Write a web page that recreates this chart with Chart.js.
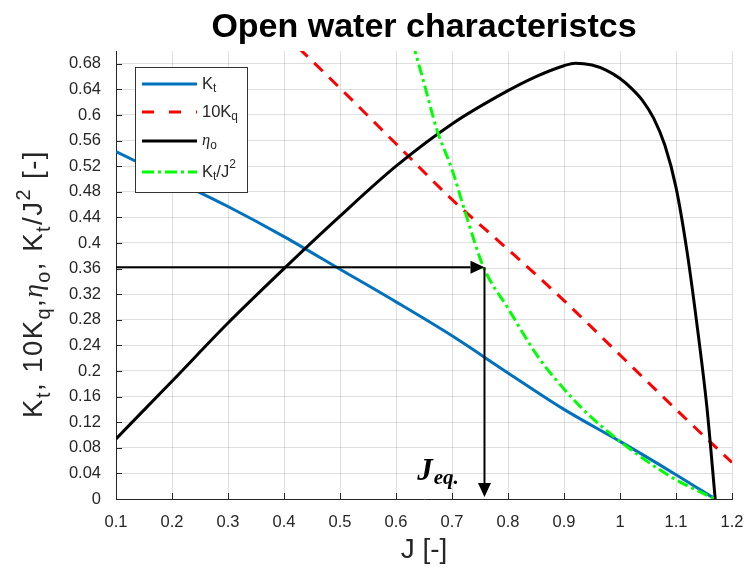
<!DOCTYPE html>
<html lang="en">
<head>
<meta charset="UTF-8">
<title>Open water characteristcs</title>
<script src="https://cdn.jsdelivr.net/npm/chart.js@4.4.0/dist/chart.umd.min.js"></script>
<style>
    body, html { margin: 0; padding: 0; background: #fff; }
    #wrap { width: 744px; height: 569px; }
</style>
</head>
<body>
<div id="wrap"><canvas id="owc" width="744" height="569"></canvas></div>
<script>
// values
const jKt  = [0.1, 0.2, 0.3, 0.4, 0.5, 0.6, 0.7, 0.8, 0.9, 1.0, 1.1, 1.17];
const kt   = [0.543, 0.50, 0.457, 0.41, 0.359, 0.308, 0.255, 0.197, 0.14, 0.09, 0.038, 0.0];

const jKq  = [0.4, 0.5, 0.6, 0.7, 0.8, 0.9, 1.0, 1.1, 1.2];
const kq10 = [0.727, 0.642, 0.555, 0.468, 0.39, 0.31, 0.225, 0.14, 0.057];

const jEta = [0.1, 0.2, 0.3, 0.4, 0.5, 0.6, 0.7, 0.8, 0.85, 0.9, 0.92, 0.95, 0.975, 1.0, 1.02, 1.04, 1.06, 1.08, 1.1, 1.12, 1.14, 1.155, 1.17];
const eta  = [0.094, 0.184, 0.275, 0.36, 0.442, 0.52, 0.586, 0.638, 0.66, 0.677, 0.681, 0.678, 0.670, 0.657, 0.642, 0.623, 0.595, 0.553, 0.487, 0.385, 0.255, 0.145, 0.0];

const jGr  = [0.62, 0.634, 0.65, 0.673, 0.7, 0.724, 0.756, 0.8, 0.857, 0.9, 0.941, 1.0, 1.05, 1.1, 1.17];
const ktJ2 = [0.745, 0.70, 0.65, 0.577, 0.515, 0.447, 0.363, 0.298, 0.218, 0.172, 0.134, 0.09, 0.058, 0.03, 0.0];

const yTickVals = [0, 0.04, 0.08, 0.12, 0.16, 0.2, 0.24, 0.28, 0.32, 0.36, 0.4, 0.44, 0.48, 0.52, 0.56, 0.6, 0.64, 0.68];

// J_eq construction
const eqK = 0.362;
const eqJ = 0.758;
const eqLabelAt = [0.638, 0.03];

const legendItems = [
    { color: '#0072BD', dash: [],            segs: [['K', 'n'], ['t', 'sub']] },
    { color: '#FF0000', dash: [12, 15],      segs: [['10K', 'n'], ['q', 'sub']] },
    { color: '#000000', dash: [],            segs: [['\u03B7', 'it'], ['o', 'sub']] },
    { color: '#00FF00', dash: [12, 4, 3, 4], segs: [['K', 'n'], ['t', 'sub'], ['/J', 'n'], ['2', 'sup']] }
];
const yTitle = [['K', 'n'], ['t', 'sub'], [', 10K', 'n'], ['q', 'sub'], [',', 'n'], ['\u03B7', 'it'], ['o', 'sub'],
                [', K', 'n'], ['t', 'sub'], ['/J', 'n'], ['2', 'sup'], [' [-]', 'n']];

const SANS = '"Liberation Sans", Arial, sans-serif';
const INK = '#262626';

function toXY(xs, ys) {
    return xs.map((x, i) => ({ x: x, y: ys[i] }));
}

// draws text made of normal / subscript / superscript pieces, returns width
function richText(ctx, segs, x, y, size, measureOnly) {
    let cx = x;
    segs.forEach(([t, kind]) => {
        let fs = size, dy = 0, font;
        if (kind === 'sub') { fs = size * 0.72; dy = size * 0.28; }
        if (kind === 'sup') { fs = size * 0.72; dy = -size * 0.42; }
        font = fs + 'px ' + SANS;
        if (kind === 'it') font = 'italic ' + size + 'px "Liberation Serif", serif';
        ctx.font = font;
        if (!measureOnly) ctx.fillText(t, cx, y + dy);
        cx += ctx.measureText(t).width;
    });
    return cx - x;
}

function arrow(ctx, x1, y1, x2, y2) {
    const ang = Math.atan2(y2 - y1, x2 - x1);
    const L = 14, W = 6.5;
    ctx.beginPath();
    ctx.moveTo(x1, y1);
    ctx.lineTo(x2 - L * Math.cos(ang), y2 - L * Math.sin(ang));
    ctx.stroke();
    ctx.beginPath();
    ctx.moveTo(x2, y2);
    ctx.lineTo(x2 - L * Math.cos(ang) - W * Math.sin(ang), y2 - L * Math.sin(ang) + W * Math.cos(ang));
    ctx.lineTo(x2 - L * Math.cos(ang) + W * Math.sin(ang), y2 - L * Math.sin(ang) - W * Math.cos(ang));
    ctx.closePath();
    ctx.fill();
}

const decor = {
    id: 'decor',
    beforeDraw(chart) {
        const ctx = chart.ctx;
        ctx.save();
        ctx.fillStyle = '#fff';
        ctx.fillRect(0, 0, chart.width, chart.height);
        ctx.restore();
    },
    afterDraw(chart) {
        const ctx = chart.ctx;
        const xs = chart.scales.x, ys = chart.scales.y;
        const a = chart.chartArea;
        ctx.save();

        // inward tick marks (matlab style)
        ctx.strokeStyle = INK;
        ctx.lineWidth = 1;
        ctx.beginPath();
        xs.ticks.forEach(t => {
            const px = Math.round(xs.getPixelForValue(t.value)) + 0.5;
            ctx.moveTo(px, a.bottom); ctx.lineTo(px, a.bottom - 6);
        });
        ys.ticks.forEach(t => {
            const py = Math.round(ys.getPixelForValue(t.value)) + 0.5;
            ctx.moveTo(a.left, py); ctx.lineTo(a.left + 6, py);
        });
        ctx.stroke();

        // J_eq arrows
        ctx.strokeStyle = '#000';
        ctx.fillStyle = '#000';
        ctx.lineWidth = 2;
        const ay = ys.getPixelForValue(eqK);
        const ax = xs.getPixelForValue(eqJ);
        arrow(ctx, xs.getPixelForValue(0.1), ay, ax, ay);
        arrow(ctx, ax, ay, ax, ys.getPixelForValue(0) - 2);

        ctx.textBaseline = 'alphabetic';
        ctx.textAlign = 'left';
        const lx = xs.getPixelForValue(eqLabelAt[0]);
        const ly = ys.getPixelForValue(eqLabelAt[1]);
        ctx.font = 'italic bold 31px "Liberation Serif", serif';
        ctx.fillText('J', lx, ly);
        const jw = ctx.measureText('J').width;
        ctx.font = 'italic bold 21px "Liberation Serif", serif';
        ctx.fillText('eq.', lx + jw + 1, ly + 4);

        // legend box
        const bx = 135, by = 67, bw = 112, bh = 125;
        ctx.fillStyle = '#fff';
        ctx.fillRect(bx, by, bw, bh);
        ctx.strokeStyle = '#333';
        ctx.lineWidth = 1;
        ctx.strokeRect(bx + 0.5, by + 0.5, bw, bh);
        const rows = [84, 112, 141, 172];
        legendItems.forEach((it, i) => {
            ctx.strokeStyle = it.color;
            ctx.lineWidth = 3;
            ctx.setLineDash(it.dash);
            ctx.beginPath();
            ctx.moveTo(142, rows[i]);
            ctx.lineTo(197, rows[i]);
            ctx.stroke();
            ctx.setLineDash([]);
            ctx.fillStyle = INK;
            ctx.textBaseline = 'middle';
            richText(ctx, it.segs, 202, rows[i], 16.5);
        });

        // title
        ctx.fillStyle = '#000';
        ctx.textBaseline = 'alphabetic';
        ctx.textAlign = 'center';
        ctx.font = 'bold 34px ' + SANS;
        ctx.fillText('Open water characteristcs', (a.left + a.right) / 2, 37);

        // x axis title
        ctx.fillStyle = INK;
        ctx.font = '28px ' + SANS;
        ctx.fillText('J [-]', (a.left + a.right) / 2, 558);

        // y axis title, rotated
        ctx.textAlign = 'left';
        ctx.textBaseline = 'alphabetic';
        ctx.letterSpacing = '1.5px';
        const w = richText(ctx, yTitle, 0, 0, 27.5, true);
        ctx.translate(42, (a.top + a.bottom) / 2 + 9);
        ctx.rotate(-Math.PI / 2);
        richText(ctx, yTitle, -w / 2, 0, 27.5);
        ctx.letterSpacing = '0px';

        ctx.restore();
    }
};

const fmt = v => String(Number(v.toFixed(2)));

new Chart(document.getElementById('owc'), {
    type: 'line',
    data: {
        datasets: [
            { label: 'Kt', data: toXY(jKt, kt), borderColor: '#0072BD', borderWidth: 3, order: 4 },
            { label: '10Kq', data: toXY(jKq, kq10), borderColor: '#FF0000', borderWidth: 3, borderDash: [12, 9], order: 3 },
            { label: 'eta_o', data: toXY(jEta, eta), borderColor: '#000000', borderWidth: 3, order: 2 },
            { label: 'Kt/J^2', data: toXY(jGr, ktJ2), borderColor: '#00FF00', borderWidth: 3, borderDash: [11, 4, 3, 4], order: 1 }
        ]
    },
    options: {
        responsive: false,
        animation: false,
        devicePixelRatio: 1,
        elements: {
            point: { radius: 0 },
            line: { cubicInterpolationMode: 'monotone', fill: false }
        },
        layout: { padding: { top: 51, right: 12, left: 0, bottom: 0 } },
        plugins: {
            legend: { display: false },
            title: { display: false },
            tooltip: { enabled: false }
        },
        scales: {
            x: {
                type: 'linear',
                min: 0.1,
                max: 1.2,
                ticks: { stepSize: 0.1, callback: fmt, color: INK, padding: 14, maxRotation: 0,
                         font: { family: SANS, size: 16.5 } },
                grid: { color: 'rgba(38,38,38,0.15)', drawTicks: false },
                border: { color: INK, width: 1 },
                afterFit(s) { s.height = 70; s.paddingLeft = 0; s.paddingRight = 0; }
            },
            y: {
                type: 'linear',
                min: 0,
                max: 0.7,
                ticks: { callback: fmt, color: INK, padding: 15,
                         font: { family: SANS, size: 16.5 } },
                grid: { color: 'rgba(38,38,38,0.15)', drawTicks: false },
                border: { color: INK, width: 1 },
                afterBuildTicks(s) { s.ticks = yTickVals.map(v => ({ value: v })); },
                afterFit(s) { s.width = 116; s.paddingTop = 0; s.paddingBottom = 0; }
            }
        }
    },
    plugins: [decor]
});
</script>
</body>
</html>
